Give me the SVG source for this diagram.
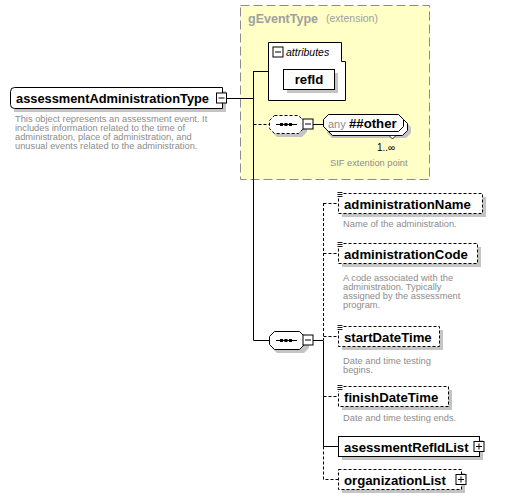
<svg xmlns="http://www.w3.org/2000/svg" width="509" height="499" viewBox="0 0 509 499">
<style>
text{font-family:"Liberation Sans",Arial,sans-serif}
.lbl{font-size:13.2px;font-weight:bold;fill:#000}
.desc{font-size:9.3px;fill:#8c8c8c}
.box{fill:#fff;stroke:#000;stroke-width:1}
.opt{fill:#fff;stroke:#000;stroke-width:1;stroke-dasharray:3 2}
.shd{fill:#c4c4c4}
.ln{fill:none;stroke:#000;stroke-width:1}
.dln{fill:none;stroke:#000;stroke-width:1;stroke-dasharray:3 2}
</style>
<defs>
<g id="minus"><rect x="0.5" y="0.5" width="10" height="10" class="box"/><line x1="2.5" y1="5.5" x2="8.5" y2="5.5" stroke="#000"/></g>
<g id="plus"><rect x="0.5" y="0.5" width="10" height="10" class="box"/><line x1="2.5" y1="5.5" x2="8.5" y2="5.5" stroke="#000"/><line x1="5.5" y1="2.5" x2="5.5" y2="8.5" stroke="#000"/></g>
<g id="simple"><rect x="-2" y="-2" width="7" height="7" fill="#fff"/><path d="M-0.5,-0.5 H4.5 M-0.5,1.5 H4.5 M-0.5,3.5 H4.5" stroke="#000" stroke-width="0.9"/></g>
</defs>

<g id="gEventType">
<rect x="240.5" y="5.5" width="189" height="174" fill="#ffffc6" stroke="#8c8c8c" stroke-dasharray="9 4"/>
<text x="248" y="23" font-size="13px" font-weight="bold" fill="#a0a0a0" textLength="70" lengthAdjust="spacingAndGlyphs">gEventType</text>
<text x="326" y="22" font-size="10.5px" fill="#a0a0a0">(extension)</text>
</g>

<g id="connectors">
<path class="ln" d="M227,98.5 H253.5 M253.5,71 V340.5 M253.5,71.5 H268 M253.5,340.5 H269"/>
<path class="dln" d="M253.5,124.5 H269"/>
<path class="ln" d="M313,124.5 H323"/>
<path class="ln" d="M313,340.5 H323"/>
<path class="dln" d="M323.5,203 V340.5"/>
<path class="ln" d="M323.5,340.5 V446.5 H338"/>
<path class="dln" d="M323.5,446.5 V479.5 H338"/>
<path class="dln" d="M323.5,203.5 H338 M323.5,253.5 H338 M323.5,336.5 H338 M323.5,396.5 H338"/>
</g>

<g id="assessmentAdministrationType">
<path d="M14,91 H226 V112 H14 Z" class="shd"/>
<path class="box" d="M14.5,87.5 H222.5 V108.5 H14.5 Q10.5,108.5 10.5,104.5 V91.5 Q10.5,87.5 14.5,87.5 Z"/>
<text class="lbl" x="16" y="102.5" textLength="193" lengthAdjust="spacingAndGlyphs">assessmentAdministrationType</text>
<use href="#minus" x="216" y="92.5"/>
<text class="desc" x="15" y="122">This object represents an assessment event. It</text>
<text class="desc" x="15" y="131">includes information related to the time of</text>
<text class="desc" x="15" y="140">administration, place of administration, and</text>
<text class="desc" x="15" y="149">unusual events related to the administration.</text>
</g>

<g id="attributes">
<path class="box" d="M268.5,42.5 H341.5 V61.5 H345.5 V100.5 H268.5 Z"/>
<use href="#minus" x="272.5" y="46.5"/>
<text x="286" y="56" font-size="10.5px" font-style="italic">attributes</text>
</g>

<g id="refId">
<rect x="287" y="73" width="51" height="20" class="shd"/>
<rect x="283.5" y="69.5" width="51" height="20" class="box"/>
<text class="lbl" x="309" y="84" text-anchor="middle">refId</text>
</g>

<g id="optSequence">
<path class="shd" d="M277,118 H302 L307,123 V132 L302,137 H277 L272,132 V123 Z"/>
<path class="opt" d="M274.5,115.5 H298.5 L303.5,120.5 V128.5 L298.5,133.5 H274.5 L269.5,128.5 V120.5 Z"/>
<path class="ln" d="M276,124.5 H297"/>
<rect x="280" y="123" width="3" height="3"/><rect x="284.5" y="123" width="3" height="3"/><rect x="289" y="123" width="3" height="3"/>
<use href="#minus" x="302.5" y="118.5"/>
</g>

<g id="anyOther">
<path class="shd" d="M332,122 H406 L411,127 V133 L406,138 H332 L327,133 V127 Z"/>
<path class="box" d="M332.5,118.5 H402.5 L407.5,123.5 V130.5 L402.5,135.5 H332.5 L327.5,130.5 V123.5 Z"/>
<path class="box" d="M328.5,114.5 H398.5 L403.5,119.5 V126.5 L398.5,131.5 H328.5 L323.5,126.5 V119.5 Z"/>
<path d="M389,135.5 L396,135.5 L392.5,139 Z" fill="#fff" stroke="#000" stroke-width="0.8"/>
<text x="328" y="127.5" font-size="11px" fill="#8c8c8c">any</text>
<text class="lbl" x="349" y="127.5">##other</text>
<text x="377" y="151" font-size="10px" fill="#000">1..∞</text>
<text class="desc" x="330" y="166">SIF extention point</text>
</g>

<g id="sequence">
<path class="shd" d="M277,334 H304 L309,339 V348 L304,353 H277 L272,348 V339 Z"/>
<path class="box" d="M274.5,331.5 H299.5 L304.5,336.5 V344.5 L299.5,349.5 H274.5 L269.5,344.5 V336.5 Z"/>
<path class="ln" d="M276,340.5 H297"/>
<rect x="280" y="339" width="3" height="3"/><rect x="284.5" y="339" width="3" height="3"/><rect x="289" y="339" width="3" height="3"/>
<use href="#minus" x="302.5" y="334.5"/>
</g>

<g id="administrationName">
<rect x="342" y="197" width="144" height="20" class="shd"/>
<rect x="338.5" y="193.5" width="144" height="20" class="opt"/>
<use href="#simple" x="338" y="193"/>
<text class="lbl" x="344" y="208.5">administrationName</text>
<text class="desc" x="343" y="227">Name of the administration.</text>
</g>

<g id="administrationCode">
<rect x="342" y="247" width="139" height="20" class="shd"/>
<rect x="338.5" y="243.5" width="139" height="20" class="opt"/>
<use href="#simple" x="338" y="243"/>
<text class="lbl" x="344" y="258.5">administrationCode</text>
<text class="desc" x="343" y="281">A code associated with the</text>
<text class="desc" x="343" y="290">administration. Typically</text>
<text class="desc" x="343" y="299">assigned by the assessment</text>
<text class="desc" x="343" y="308">program.</text>
</g>

<g id="startDateTime">
<rect x="342" y="330" width="101" height="20" class="shd"/>
<rect x="338.5" y="326.5" width="101" height="20" class="opt"/>
<use href="#simple" x="338" y="326"/>
<text class="lbl" x="344" y="341.5">startDateTime</text>
<text class="desc" x="343" y="364">Date and time testing</text>
<text class="desc" x="343" y="373">begins.</text>
</g>

<g id="finishDateTime">
<rect x="342" y="390" width="110" height="20" class="shd"/>
<rect x="338.5" y="386.5" width="110" height="20" class="opt"/>
<use href="#simple" x="338" y="386"/>
<text class="lbl" x="344" y="401.5">finishDateTime</text>
<text class="desc" x="343" y="421">Date and time testing ends.</text>
</g>

<g id="asessmentRefIdList">
<rect x="342" y="440" width="141" height="20" class="shd"/>
<rect x="338.5" y="436.5" width="141" height="20" class="box"/>
<text class="lbl" x="344" y="451.5">asessmentRefIdList</text>
<use href="#plus" x="473.5" y="441"/>
</g>

<g id="organizationList">
<rect x="342" y="473" width="123" height="20" class="shd"/>
<rect x="338.5" y="469.5" width="123" height="20" class="opt"/>
<text class="lbl" x="344" y="484.5">organizationList</text>
<use href="#plus" x="455.5" y="474"/>
</g>
</svg>
